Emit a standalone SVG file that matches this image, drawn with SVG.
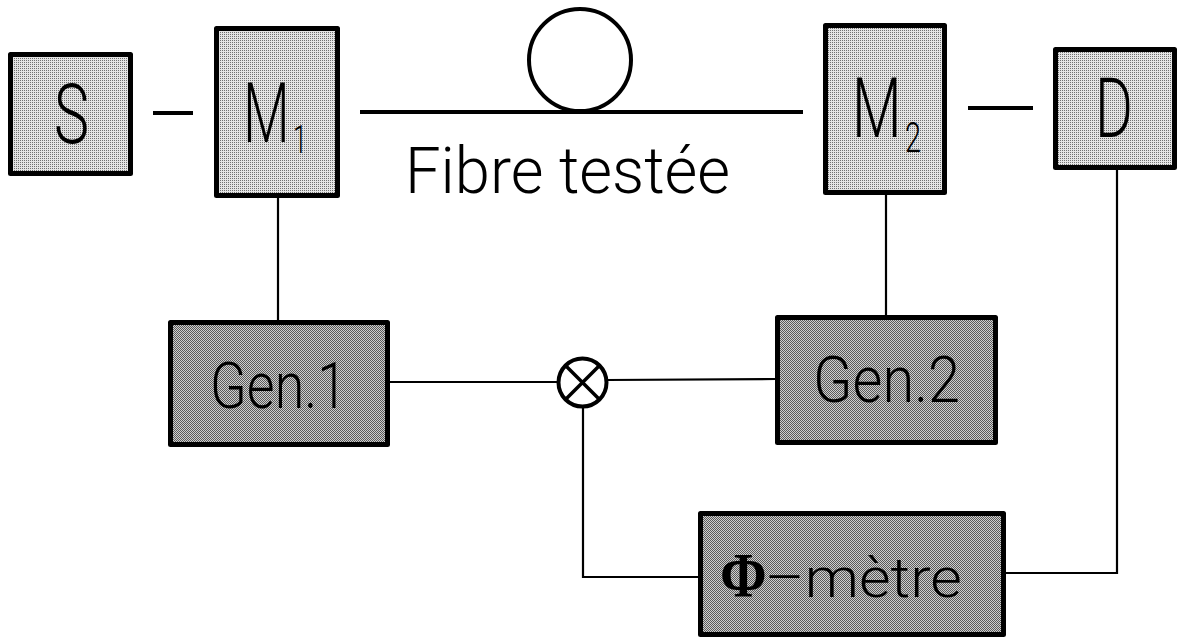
<svg xmlns="http://www.w3.org/2000/svg" width="1178" height="641" viewBox="0 0 1178 641">
  <defs>
    <!-- fine halftone screens used for the box fills -->
    <pattern id="screenLight" patternUnits="userSpaceOnUse" width="2" height="2">
      <rect width="2" height="2" fill="#e4e4e4"/>
      <rect width="1" height="1" fill="#707070"/>
    </pattern>
    <pattern id="screenDark" patternUnits="userSpaceOnUse" width="2" height="2">
      <rect width="2" height="2" fill="#cfcfcf"/>
      <rect width="1" height="1" fill="#5a5a5a"/>
      <rect x="1" y="1" width="1" height="1" fill="#5a5a5a"/>
    </pattern>
  </defs>
  <style>
    .box { stroke: #000; stroke-width: 5; stroke-linejoin: round; }
    .light { fill: url(#screenLight); }
    .dark { fill: url(#screenDark); }
    .lbl { font-family: Roboto, "Liberation Sans", sans-serif; font-weight: 300; fill: #000; }
    .phi { font-family: "Liberation Serif", serif; font-weight: bold; }
    .wire { fill: none; stroke: #000; stroke-width: 2.2; }
    .heavy { fill: none; stroke: #000; stroke-width: 4; }
  </style>

  <rect width="1178" height="641" fill="#fff"/>

  <!-- source -->
  <g id="node-S">
    <rect class="box light" x="10.5" y="54.5" width="120" height="119"/>
    <text class="lbl" x="54" y="143" font-size="84" textLength="35" lengthAdjust="spacingAndGlyphs">S</text>
  </g>

  <!-- modulator 1 (condensed lettering via horizontal scale) -->
  <g id="node-M1">
    <rect class="box light" x="216.5" y="28.5" width="121" height="167"/>
    <text class="lbl" transform="translate(243 142) scale(0.65 1)" font-size="83">M<tspan x="77" y="11" font-size="39">1</tspan></text>
  </g>

  <!-- fibre under test -->
  <g id="node-fibre">
    <line class="heavy" x1="360" y1="112" x2="803" y2="112"/>
    <circle class="heavy" cx="580" cy="60" r="51"/>
    <text class="lbl" x="405" y="193" font-size="64" textLength="325" lengthAdjust="spacingAndGlyphs">Fibre testée</text>
  </g>

  <!-- modulator 2 -->
  <g id="node-M2">
    <rect class="box light" x="825.5" y="25.5" width="119" height="167"/>
    <text class="lbl" transform="translate(852 137) scale(0.69 1)" font-size="83">M<tspan x="77" y="15" font-size="42">2</tspan></text>
  </g>

  <!-- detector -->
  <g id="node-D">
    <rect class="box light" x="1055.5" y="49.5" width="119" height="118"/>
    <text class="lbl" x="1095" y="137" font-size="83" textLength="38" lengthAdjust="spacingAndGlyphs">D</text>
  </g>

  <!-- generator 1 -->
  <g id="node-Gen1">
    <rect class="box dark" x="170.5" y="322.5" width="217" height="122"/>
    <text class="lbl" x="210" y="408" font-size="64" textLength="137" lengthAdjust="spacingAndGlyphs">Gen.1</text>
  </g>

  <!-- generator 2 -->
  <g id="node-Gen2">
    <rect class="box dark" x="777.5" y="317.5" width="218" height="125"/>
    <text class="lbl" x="813" y="402" font-size="65" textLength="147" lengthAdjust="spacingAndGlyphs">Gen.2</text>
  </g>

  <!-- mixer -->
  <g id="node-mixer">
    <circle cx="582.5" cy="382.5" r="24" fill="#fff" stroke="#000" stroke-width="4"/>
    <path d="M565.5 365.5 L599.5 399.5 M599.5 365.5 L565.5 399.5" fill="none" stroke="#000" stroke-width="3.5"/>
  </g>

  <!-- phase meter -->
  <g id="node-phimetre">
    <rect class="box dark" x="700.5" y="513.5" width="303" height="121"/>
    <text class="lbl" transform="translate(720 597) scale(0.88 1)" font-size="56"><tspan class="phi" font-size="64">Φ</tspan><tspan x="51" textLength="224" lengthAdjust="spacingAndGlyphs">–mètre</tspan></text>
  </g>

  <!-- connectors -->
  <g id="connectors">
    <line class="heavy" x1="153" y1="113" x2="193" y2="113"/>
    <line class="heavy" x1="968" y1="108" x2="1033" y2="108"/>
    <line class="wire" x1="278" y1="198" x2="278" y2="320"/>
    <line class="wire" x1="886" y1="195" x2="886" y2="315"/>
    <line class="wire" x1="390" y1="382" x2="558" y2="382"/>
    <line class="wire" x1="607" y1="380" x2="775" y2="379"/>
    <polyline class="wire" points="583,407 583,577 698,577"/>
    <polyline class="wire" points="1006,573 1117,573 1117,170"/>
  </g>
</svg>
